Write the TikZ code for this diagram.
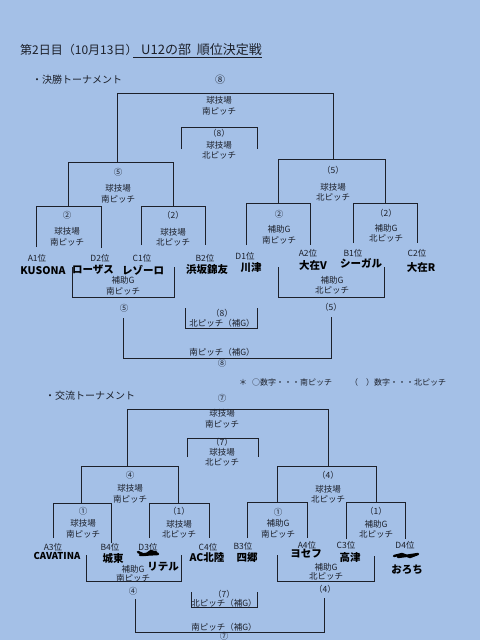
\documentclass[tikz,border=0pt]{standalone}
\usepackage{fontspec}
\setmainfont{Noto Sans CJK JP}
\usetikzlibrary{positioning}
\definecolor{paper}{RGB}{164,192,231}
\definecolor{ink}{RGB}{28,32,42}
\tikzset{
 small/.style={
 font=\fontsize{8.5}{10.5}\selectfont,
 text=ink,
 inner sep=0pt,
 align=center
 },
 tight/.style={
 small,
 font=\fontsize{8.5}{8.8}\selectfont
 },
 place/.style={
 font=\fontsize{8.5}{9}\selectfont,
 text=ink,
 inner sep=0pt
 },
 hand/.style={
 font=\fontsize{10.5}{12}\selectfont\bfseries,
 text=black,
 inner sep=0pt
 },
 head/.style={
 font=\fontsize{10}{12}\selectfont,
 text=ink,
 inner sep=0pt,
 anchor=west
 },
 bline/.style={draw=ink, line width=0.7pt},
 scrib/.style={draw=black, line width=2.4pt, line cap=round, line join=round}
}
\begin{document}
\begin{tikzpicture}[x=1pt, y=-1pt]
 \useasboundingbox (0,0) rectangle (480,640);
 \fill[paper] (0,0) rectangle (480,640);

 % title
 \node[head, font=\fontsize{12}{14}\selectfont] (ttl) at (20,50) {第2日目（10月13日）};
 \node[head, font=\fontsize{13}{14}\selectfont] (ttlb) at (133,50) {\hspace{8pt}U12の部\hspace{6pt}順位決定戦};
 \draw[bline] ([yshift=-1pt]ttlb.south west) -- ([yshift=-1pt]ttlb.south east);

 % ---- final tournament ----
 \node[head] (fhead) at (32,80) {・決勝トーナメント};
 \node[small, font=\fontsize{10}{11}\selectfont] (f8) at (220,80) {⑧};
 \node[small] (fv) at (219,106) {球技場\\南ピッチ};
 \node[small] (t8) at (219,133) {（8）};
 \node[small] (t8v) at (219,150) {球技場\\北ピッチ};
 \node[small] (sl) at (118,172) {⑤};
 \node[small] (slv) at (118,194) {球技場\\南ピッチ};
 \node[small] (sr) at (333,170) {（5）};
 \node[small] (srv) at (333,192) {球技場\\北ピッチ};
 \node[small] (q1) at (67,215) {②};
 \node[small] (q1v) at (67,237) {球技場\\南ピッチ};
 \node[small] (q2) at (173,215) {（2）};
 \node[small] (q2v) at (173,237) {球技場\\北ピッチ};
 \node[small] (q3) at (279,214) {②};
 \node[small] (q3v) at (279,235) {補助G\\南ピッチ};
 \node[small] (q4) at (386,213) {（2）};
 \node[small] (q4v) at (386,233) {補助G\\北ピッチ};

 % brackets (left/right/top/bottom left/bottom right)
 \foreach \l/\r/\t/\bl/\br in {117/333/93/162/159, 181/257/127/149/149,
 68/173/162/206/206, 278/385/159/203/203, 36/101/206/247/248,
 141/205/206/245/245, 246/310/203/245/245, 353/417/203/243/243}
 \draw[bline] (\l,\bl) |- (\r,\t) -- (\r,\br);

 % places
 \node[place] (pa1) at (37,258) {A1位};
 \node[place] (pd2) at (100,258) {D2位};
 \node[place] (pc1) at (142,258) {C1位};
 \node[place] (pb2) at (205,258) {B2位};
 \node[place] (pd1) at (245,256) {D1位};
 \node[place] (pa2) at (308,253) {A2位};
 \node[place] (pb1) at (353,253) {B1位};
 \node[place] (pc2) at (417,253) {C2位};
 \node[hand] (na1) at (43,271) {KUSONA};
 \node[hand] (nd2) at (93,270) {ローザス};
 \node[hand] (nc1) at (143,270) {レゾーロ};
 \node[hand] (nb2) at (207,270) {浜坂錦友};
 \node[hand] (nd1) at (251,268) {川津};
 \node[hand] (na2) at (313,265) {大在V};
 \node[hand] (nb1) at (361,263) {シーガル};
 \node[hand] (nc2) at (421,267) {大在R};

 % lower brackets (left/right/top left/top right/bottom)
 \foreach \l/\r/\tl/\tr/\b in {72/174/267/267/297, 278/384/267/267/297,
 185/257/308/308/328, 123/331/318/317/358}
 \draw[bline] (\l,\tl) |- (\r,\b) -- (\r,\tr);
 \node[small] (c5v) at (123,286) {補助G\\南ピッチ};
 \node[small] (c5wv) at (332,285) {補助G\\北ピッチ};
 \node[small] (c5) at (124,308) {⑤};
 \node[small] (c5w) at (331,307) {（5）};
 \node[small] (l8) at (222,313) {（8）};
 \node[small] (l8v) at (222,323) {北ピッチ（補G）};
 \node[small] (m8v) at (222,352) {南ピッチ（補G）};
 \node[small] (m8) at (222,363) {⑧};

 % note
 \node[place, font=\fontsize{8}{9}\selectfont] (note) at (243,382) {＊};
 \node[place, font=\fontsize{8}{9}\selectfont, anchor=west] (notea) at (252,382) {○数字・・・南ピッチ};
 \node[place, font=\fontsize{8}{9}\selectfont, anchor=west] (noteb) at (350,382) {（　）数字・・・北ピッチ};

 % ---- exchange tournament ----
 \node[head] (xhead) at (45,396) {・交流トーナメント};
 \node[small] (x7) at (222,398) {⑦};
 \node[small] (xv) at (222,419) {球技場\\南ピッチ};
 \node[small] (y7) at (222,442) {（7）};
 \node[small] (y7v) at (222,457) {球技場\\北ピッチ};
 \node[small] (xl) at (130,475) {④};
 \node[small] (xlv) at (130,494) {球技場\\南ピッチ};
 \node[small] (xr) at (328,475) {（4）};
 \node[small] (xrv) at (328,494) {球技場\\北ピッチ};
 \node[small] (r1) at (83,511) {①};
 \node[small] (r1v) at (83,529) {球技場\\南ピッチ};
 \node[small] (r2) at (179,511) {（1）};
 \node[small] (r2v) at (179,529) {球技場\\北ピッチ};
 \node[small] (r3) at (278,512) {①};
 \node[small] (r3v) at (278,529) {補助G\\南ピッチ};
 \node[small] (r4) at (376,511) {（1）};
 \node[small] (r4v) at (376,529) {補助G\\北ピッチ};

 \foreach \l/\r/\t/\bl/\br in {127/328/409/466/466, 187/258/438/457/457,
 81/178/466/503/503, 277/376/466/502/502, 53/111/503/538/543,
 149/209/503/538/538, 247/307/502/538/538, 346/405/502/539/539}
 \draw[bline] (\l,\bl) |- (\r,\t) -- (\r,\br);

 \node[place] (pa3) at (53,547) {A3位};
 \node[place] (pb4) at (110,547) {B4位};
 \node[place] (pd3) at (148,547) {D3位};
 \node[place] (pc4) at (208,547) {C4位};
 \node[place] (pb3) at (243,546) {B3位};
 \node[place] (pa4) at (307,545) {A4位};
 \node[place] (pc3) at (346,545) {C3位};
 \node[place] (pd4) at (405,545) {D4位};
 \node[hand, font=\fontsize{9.5}{11}\selectfont\bfseries] (na3) at (57,556) {CAVATINA};
 \node[hand] (nb4) at (113,558) {城東};
 \draw[scrib] (138,552) -- (145,555) -- (151,551) -- (158,554) -- (140,555) -- (156,552);
 \node[hand] (nd3) at (163,567) {リテル};
 \node[hand] (nc4) at (207,558) {AC北陸};
 \node[hand] (nb3) at (247,558) {四郷};
 \node[hand] (na4) at (306,554) {ヨセフ};
 \node[hand] (nc3) at (350,557) {高津};
 \draw[scrib] (394,556) -- (402,554) -- (410,557) -- (418,554) -- (398,557) -- (414,555);
 \node[hand] (nd4) at (407,570) {おろち};

 \foreach \l/\r/\tl/\tr/\b in {86/181/555/555/581, 277/374/555/556/581,
 191/257/592/592/607, 135/324/599/598/632}
 \draw[bline] (\l,\tl) |- (\r,\b) -- (\r,\tr);
 \node[tight] (c4v) at (133,574) {補助G\\南ピッチ};
 \node[tight] (c4wv) at (326,572) {補助G\\北ピッチ};
 \node[small] (c4) at (133,591) {④};
 \node[small] (c4w) at (325,589) {（4）};
 \node[small] (l7) at (224,594) {（7）};
 \node[small] (l7v) at (224,603) {北ピッチ（補G）};
 \node[small] (m7v) at (224,627) {南ピッチ（補G）};
 \node[small] (m7) at (224,636) {⑦};
\end{tikzpicture}
\end{document}
